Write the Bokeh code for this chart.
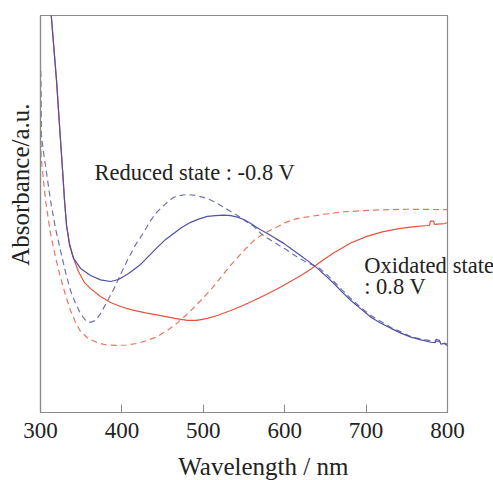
import math
from bokeh.plotting import figure
from bokeh.models import Label, FixedTicker, Range1d
from bokeh.embed import file_html
from bokeh.resources import INLINE

# ---- data (wavelength in nm, absorbance in arbitrary units) ----
red_solid_wl = [311, 313.2, 319.7, 324.6, 327.1, 329.5, 332, 335.7, 340.6, 346.7, 354.1, 361.5,
                373.8, 386.1, 398.4, 410.7, 429.2, 447.6, 465, 480.4, 492, 505, 518, 533.7, 548,
                562, 578, 595.2, 607, 619.8, 632, 645, 660, 681, 700, 720, 740, 760, 775, 778,
                779, 783, 784, 795.7, 800]
red_solid_ab = [1.08, 1.0, 0.836, 0.685, 0.610, 0.534, 0.471, 0.426, 0.388, 0.355, 0.327, 0.312,
                0.292, 0.277, 0.267, 0.259, 0.251, 0.244, 0.237, 0.232, 0.232, 0.237, 0.245,
                0.257, 0.269, 0.282, 0.298, 0.316, 0.330, 0.345, 0.361, 0.381, 0.402, 0.427,
                0.443, 0.455, 0.463, 0.468, 0.471, 0.472, 0.482, 0.482, 0.474, 0.476, 0.478]

blue_solid_wl = [311, 313.2, 319.7, 324.6, 327.1, 329.5, 332, 335.7, 340.6, 349.2, 361.5, 373.8,
                 386.1, 395.9, 408.2, 423, 443.5, 453.8, 463.6, 473.4, 484.5, 494.3, 505, 515.3,
                 525, 533.7, 542, 549.7, 558.3, 568.1, 578.8, 589, 598.9, 608.8, 619.8, 629.7,
                 640.3, 650.5, 660.4, 670.3, 681.3, 693.6, 705.9, 718.2, 730.5, 742.8, 755.1,
                 767.5, 779.7, 785, 786, 790, 792, 795.7, 800]
blue_solid_ab = [1.08, 1.0, 0.836, 0.685, 0.610, 0.534, 0.471, 0.421, 0.388, 0.363, 0.345, 0.334,
                 0.330, 0.335, 0.350, 0.373, 0.416, 0.436, 0.451, 0.466, 0.479, 0.487, 0.494,
                 0.496, 0.497, 0.496, 0.492, 0.486, 0.476, 0.463, 0.451, 0.438, 0.426, 0.411,
                 0.395, 0.380, 0.363, 0.344, 0.325, 0.304, 0.282, 0.261, 0.240, 0.225, 0.212,
                 0.200, 0.190, 0.183, 0.177, 0.176, 0.184, 0.182, 0.172, 0.174, 0.169]

blue_dash_wl = [300.2, 301, 304, 312.3, 318.5, 324.6, 330.8, 336.9, 343, 349.2, 355.4, 361.5,
                367.7, 373.8, 381.2, 389.8, 398.4, 406.6, 416.9, 426.7, 435.3, 443.5, 453.8,
                463.6, 472.2, 480.4, 490.7, 505, 515.3, 525, 542, 554.2, 562, 570.6, 578, 586.6,
                601.4, 615.7, 627.2, 640.3, 650.5, 660.4, 670.3, 681.3, 693.6, 705.9, 718.2,
                730.5, 742.8, 755.1, 767.5, 779.7, 788.3, 795.7, 800]
blue_dash_ab = [0.86, 0.70, 0.652, 0.534, 0.463, 0.408, 0.353, 0.307, 0.275, 0.249, 0.232, 0.227,
                0.232, 0.249, 0.277, 0.310, 0.348, 0.383, 0.423, 0.453, 0.484, 0.506, 0.526,
                0.542, 0.547, 0.549, 0.547, 0.539, 0.529, 0.517, 0.496, 0.479, 0.469, 0.451,
                0.440, 0.429, 0.411, 0.391, 0.378, 0.367, 0.350, 0.330, 0.309, 0.287, 0.264,
                0.244, 0.229, 0.214, 0.203, 0.191, 0.185, 0.181, 0.179, 0.176, 0.172]

red_dash_wl = [300.2, 300.8, 306.2, 312.3, 318.5, 324.6, 330.8, 336.9, 343, 349.2, 359, 369.7,
               381.2, 394.3, 405.8, 418.9, 430.4, 443.5, 457.4, 467.3, 475.9, 488.2, 500.5,
               511.6, 521.4, 531.2, 542, 552.2, 562, 574.3, 586.6, 601.4, 615.7, 632.1, 650.5,
               669, 709.6, 751, 800]
red_dash_ab = [0.86, 0.643, 0.534, 0.451, 0.390, 0.340, 0.295, 0.257, 0.227, 0.204, 0.186, 0.176,
               0.170, 0.169, 0.170, 0.174, 0.181, 0.191, 0.209, 0.224, 0.240, 0.264, 0.290,
               0.315, 0.340, 0.365, 0.390, 0.413, 0.433, 0.451, 0.463, 0.479, 0.489, 0.494,
               0.500, 0.505, 0.510, 0.512, 0.511]

x_ticks = [300, 400, 500, 600, 700, 800]

FONT = "Liberation Serif"
RED = "#e4533b"
RED_D = "#e87562"
BLUE = "#5050a6"
BLUE_D = "#7073ae"
FRAME = "#8a8a8a"

p = figure(width=493, height=480, output_backend="svg", toolbar_location=None,
           x_range=Range1d(300, 800), y_range=Range1d(0, 1),
           min_border_left=40, min_border_right=46, min_border_top=15, min_border_bottom=68)

p.background_fill_color = "white"
p.border_fill_color = "white"
p.outline_line_color = FRAME
p.outline_line_width = 1.2
p.xgrid.visible = False
p.ygrid.visible = False

xa = p.xaxis[0]
xa.ticker = FixedTicker(ticks=x_ticks)
xa.minor_tick_line_color = None
xa.major_tick_in = 8
xa.major_tick_out = 0
xa.major_tick_line_color = FRAME
xa.axis_line_color = FRAME
xa.axis_line_width = 1.2
xa.major_label_text_font = FONT
xa.major_label_text_font_size = "23px"
xa.major_label_text_color = "#222222"
xa.major_label_standoff = 10

ya = p.yaxis[0]
ya.ticker = FixedTicker(ticks=[])
ya.minor_tick_line_color = None
ya.major_tick_line_color = None
ya.axis_line_color = FRAME
ya.axis_line_width = 1.2

p.line(red_dash_wl, red_dash_ab, line_color=RED_D, line_width=1.2, line_dash="6 4")
p.line(blue_dash_wl, blue_dash_ab, line_color=BLUE_D, line_width=1.2, line_dash="6 4")
p.line(red_solid_wl, red_solid_ab, line_color=RED, line_width=1.2)
p.line(blue_solid_wl, blue_solid_ab, line_color=BLUE, line_width=1.2)

def lab(text, x, y, place="center", **kw):
    opts = dict(text_font=FONT, text_font_size="22.5px", text_color="#222222",
                text_baseline="alphabetic")
    opts.update(kw)
    p.add_layout(Label(x=x, y=y, text=text, **opts), place)

lab("Reduced state : -0.8 V", 366.4, 0.605)
lab("Oxidated", 697.7, 0.370)
lab("state", 806.4, 0.370, place="right")
lab(": 0.8 V", 697.7, 0.317)
# axis titles
lab("Wavelength / nm", 573.7, -0.136, place="below", text_align="center", text_font_size="25px")
lab("Absorbance/a.u.", 275.4, 0.574, place="left", text_align="center",
    text_baseline="middle", angle=math.pi / 2, text_font_size="25px")

open("out.html", "w").write(file_html(p, INLINE))
